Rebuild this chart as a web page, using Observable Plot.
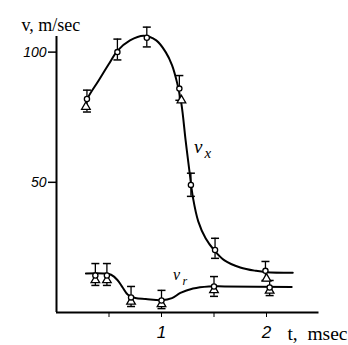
<!DOCTYPE html>
<html><head><meta charset="utf-8">
<script src="https://cdn.jsdelivr.net/npm/d3@7"></script>
<script src="https://cdn.jsdelivr.net/npm/@observablehq/plot@0.6"></script>
<style>body{margin:0;background:#fff}</style>
</head><body><div id="chart"></div>
<script>
// v_x smooth curve (t in msec, v in m/sec)
const vxCurveT = [0.27,0.30,0.40,0.50,0.58,0.70,0.83,0.95,1.04,1.10,1.15,1.19,1.23,1.27,1.30,1.35,1.42,1.50,1.60,1.75,1.90,2.00,2.25];
const vxCurveV = [78.5,82.5,89,95.5,100.5,104.5,106.3,104.5,100,95,88,80,66,53,44,35,28.5,24,20,17.3,16,15.5,15.3];
// v_r smooth curve
const vrCurveT = [0.28,0.45,0.52,0.58,0.63,0.68,0.75,0.85,1.00,1.10,1.18,1.30,1.45,1.60,2.24];
const vrCurveV = [15,15,14.5,12.5,9.6,6.8,5.6,5.2,4.7,5.5,7.5,9.2,10,10,9.8];
// measured points (circles) with error bars
const vxT = [0.29,0.58,0.86,1.17,1.28,1.51,1.99];
const vxV = [82,100,105.5,86,49,24,16];
const vxLo = [77,97,102,81.5,44.6,20.8,12.3];
const vxHi = [85.4,105,109.6,91,53.5,28.5,19.6];
const vrT = [0.37,0.48,0.71,1.00,1.50,2.03];
const vrV = [14.2,14.2,5.8,4.6,10,9.6];
const vrLo = [10.4,10.4,2.3,1.5,6.2,6.5];
const vrHi = [18.8,18.8,10,8.5,13.8,12.3];
// triangle markers
const triT = [0.28,1.19,2.00,0.37,0.48,0.71,1.00,1.50,2.03];
const triV = [79,81.5,13,12.4,12.4,4.2,3.2,8.6,8.4];
const xTicks = [0.5,1,1.5,2];
const xTickLabels = {1:"1",2:"2"};
const yTicks = [50,100];

const zip2 = (a,b) => a.map((t,i)=>({t, v:b[i]}));
const vxCurve = zip2(vxCurveT, vxCurveV);
const vrCurve = zip2(vrCurveT, vrCurveV);
const pts = [...vxT.map((t,i)=>({t, v:vxV[i], lo:vxLo[i], hi:vxHi[i]})),
             ...vrT.map((t,i)=>({t, v:vrV[i], lo:vrLo[i], hi:vrHi[i]}))];
const tris = zip2(triT, triV);

const cap = {draw(ctx, size){ const r = Math.sqrt(size/Math.PI); ctx.moveTo(-r,0); ctx.lineTo(r,0); }};
const lbl = {fill: "black", fontFamily: "Liberation Serif", fontStyle: "italic", textAnchor: "start"};

const chart = Plot.plot({
  width: 348, height: 345,
  marginLeft: 56, marginRight: 29.5, marginTop: 36, marginBottom: 33,
  x: {domain: [0, 2.5]},
  y: {domain: [0, 106]},
  style: {background: "#fff", color: "#000"},
  marks: [
    Plot.ruleX([0], {strokeWidth: 2}),
    Plot.ruleY([0], {strokeWidth: 2}),
    Plot.axisY({ticks: yTicks, tickSize: 8, tickPadding: 2, tickFormat: d => String(d), fontSize: 14, fontStyle: "italic", fontFamily: "Liberation Sans", label: null, strokeWidth: 1.5, fill: "black"}),
    Plot.axisX({ticks: xTicks, tickSize: 5, tickFormat: d => xTickLabels[d] ?? "", fontSize: 17, fontStyle: "italic", fontFamily: "Liberation Sans", label: null, tickPadding: 8, fill: "black"}),
    Plot.line(vxCurve, {x: "t", y: "v", curve: "catmull-rom", strokeWidth: 2}),
    Plot.line(vrCurve, {x: "t", y: "v", curve: "catmull-rom", strokeWidth: 2}),
    Plot.ruleX(pts, {x: "t", y1: "lo", y2: "hi", strokeWidth: 1.3}),
    Plot.dot(pts, {x: "t", y: "lo", symbol: cap, r: 4, stroke: "black", strokeWidth: 1.5}),
    Plot.dot(pts, {x: "t", y: "hi", symbol: cap, r: 4, stroke: "black", strokeWidth: 1.5}),
    Plot.dot(tris, {x: "t", y: "v", symbol: "triangle", r: 3.2, fill: "white", stroke: "black", strokeWidth: 1.3}),
    Plot.dot(pts, {x: "t", y: "v", r: 2.6, fill: "white", stroke: "black", strokeWidth: 1.3}),
    Plot.text(["v,\u00a0m/sec"], {frameAnchor: "top-left", dx: -35, dy: -18, textAnchor: "start", fontSize: 18, fill: "black", fontFamily: "Liberation Serif"}),
    Plot.text(["t,\u00a0\u00a0msec"], {frameAnchor: "bottom-right", dx: 28.5, dy: 27, textAnchor: "end", fontSize: 19.5, fill: "black", fontFamily: "Liberation Serif"}),
    Plot.text([{t: 1.31, v: 63.5}], {...lbl, x: "t", y: "v", text: () => "v", fontSize: 19}),
    Plot.text([{t: 1.41, v: 61}], {...lbl, x: "t", y: "v", text: () => "x", fontSize: 15}),
    Plot.text([{t: 1.11, v: 14.5}], {...lbl, x: "t", y: "v", text: () => "v", fontSize: 16}),
    Plot.text([{t: 1.2, v: 12}], {...lbl, x: "t", y: "v", text: () => "r", fontSize: 12})
  ]
});
document.getElementById("chart").appendChild(chart);
</script></body></html>
